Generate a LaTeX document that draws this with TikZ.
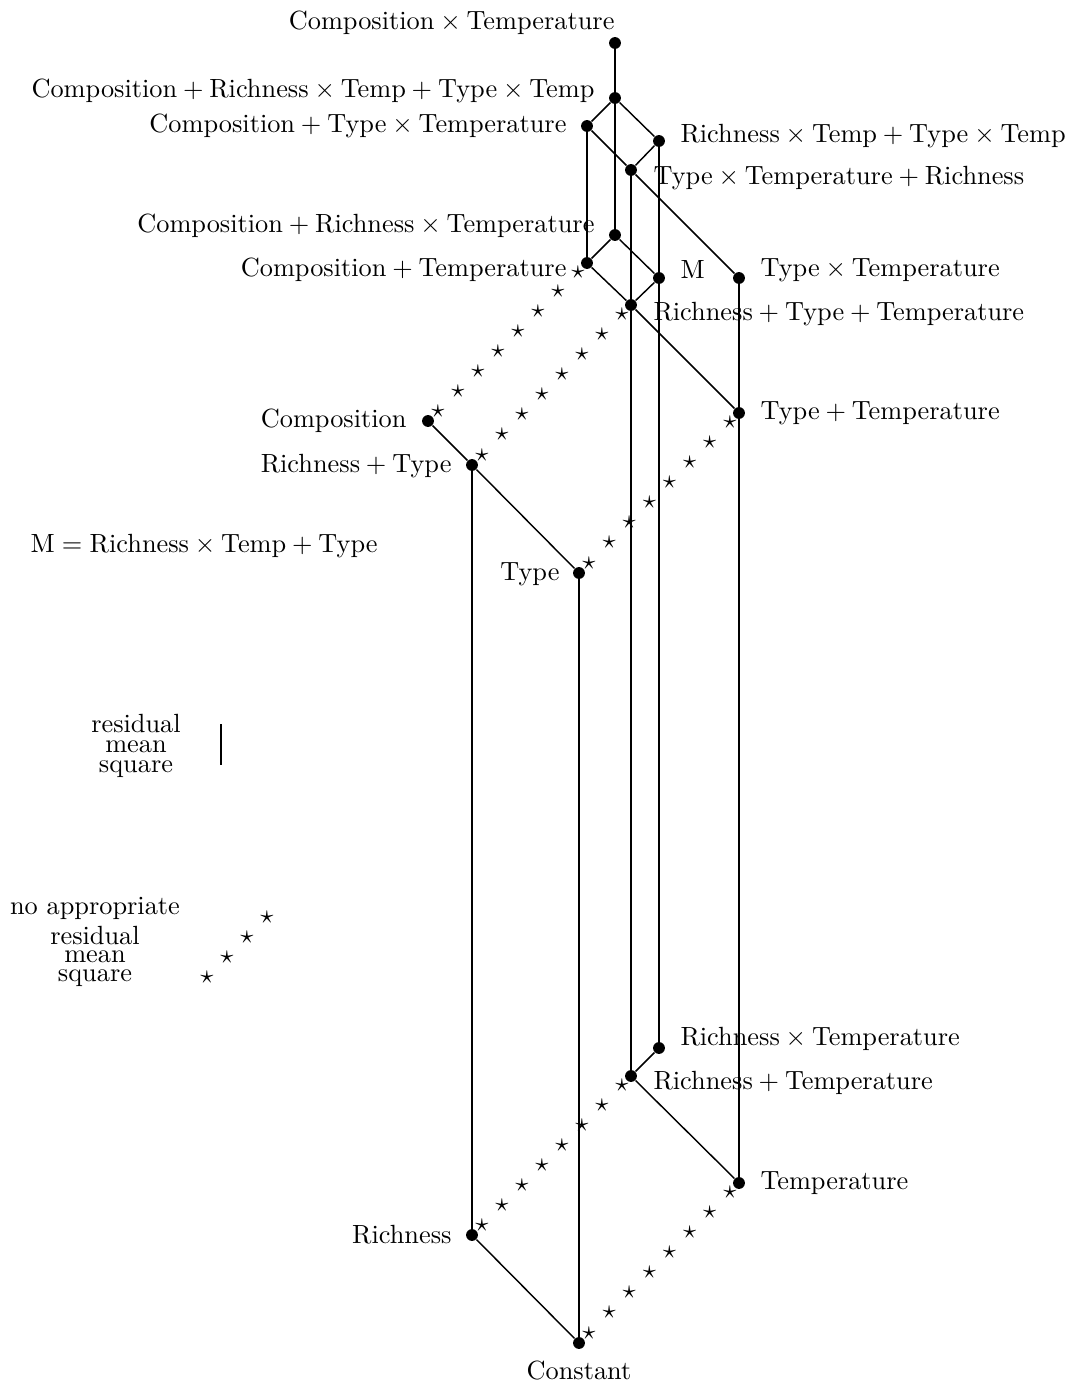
\documentclass[tikz,border=0pt]{standalone}
\usetikzlibrary{calc}
\newcommand\pl{${}+{}$}
\newcommand\tm{${}\times{}$}
\begin{document}
\begin{tikzpicture}[x=0.38pt,y=-0.38pt,
  dot/.style={circle,fill=black,inner sep=0pt,minimum size=4.5pt},
  lab/.style={inner sep=0pt},
  keytext/.style={inner sep=0pt,align=center,anchor=north},
  link/.style={line width=0.55pt},
  st/.style={inner sep=0pt}]
\useasboundingbox (0,0) rectangle (1071,1387);

% model nodes
\node[dot] (CT)    at (615,43)   {};
\node[dot] (CRTT)  at (615,98)   {};
\node[dot] (CTT)   at (587,126)  {};
\node[dot] (RTTT)  at (659,141)  {};
\node[dot] (TTR)   at (631,170)  {};
\node[dot] (CRT)   at (615,235)  {};
\node[dot] (CTemp) at (587,263)  {};
\node[dot] (M)     at (659,278)  {};
\node[dot] (TT)    at (739,278)  {};
\node[dot] (RTT)   at (631,305)  {};
\node[dot] (TpT)   at (739,413)  {};
\node[dot] (Comp)  at (428,421)  {};
\node[dot] (RT)    at (472,465)  {};
\node[dot] (Type)  at (579,573)  {};
\node[dot] (RxT)   at (659,1048) {};
\node[dot] (RpT)   at (631,1076) {};
\node[dot] (Temp)  at (739,1183) {};
\node[dot] (Rich)  at (472,1235) {};
\node[dot] (Const) at (579,1343) {};

% labels
\node[lab,anchor=base east] (lCT)    at (615,29)   {Composition\tm Temperature};
\node[lab,anchor=base east] (lCRTT)  at (595,97)   {Composition\pl Richness\tm Temp\pl Type\tm Temp};
\node[lab,anchor=base east] (lCTT)   at (567,132)  {Composition\pl Type\tm Temperature};
\node[lab,anchor=base west] (lRTTT)  at (680,142)  {Richness\tm Temp\pl Type\tm Temp};
\node[lab,anchor=base west] (lTTR)   at (653,184)  {Type\tm Temperature\pl Richness};
\node[lab,anchor=base east] (lCRT)   at (595,232)  {Composition\pl Richness\tm Temperature};
\node[lab,anchor=base east] (lCTemp) at (567,276)  {Composition\pl Temperature};
\node[lab,anchor=base west] (lM)     at (680,278)  {M};
\node[lab,anchor=base west] (lTT)    at (760,276)  {Type\tm Temperature};
\node[lab,anchor=base west] (lRTT)   at (653,320)  {Richness\pl Type\pl Temperature};
\node[lab,anchor=base west] (lTpT)   at (760,419)  {Type\pl Temperature};
\node[lab,anchor=base east] (lComp)  at (407,427)  {Composition};
\node[lab,anchor=base east] (lRT)    at (452,472)  {Richness\pl Type};
\node[lab,anchor=base east] (lType)  at (560,580)  {Type};
\node[lab,anchor=base west] (lRxT)   at (680,1045) {Richness\tm Temperature};
\node[lab,anchor=base west] (lRpT)   at (653,1089) {Richness\pl Temperature};
\node[lab,anchor=base west] (lTemp)  at (760,1189) {Temperature};
\node[lab,anchor=base east] (lRich)  at (452,1243) {Richness};
\node[lab,anchor=base]      (lConst) at (579,1379) {Constant};
\node[lab,anchor=base west] (lMdef)  at (30,552)   {M${}={}$Richness\tm Temp\pl Type};

% edges with a residual mean square
\foreach \a/\b in {CT/CRTT, CRTT/CTT, CRTT/RTTT, CRTT/CRT, CTT/CTemp, CTT/TTR,
                   TTR/TT, RTTT/TTR, RTTT/M, TTR/RTT, CRT/CTemp, CRT/M,
                   CTemp/RTT, M/RTT, RTT/TpT, TT/TpT, Comp/RT, RT/Type,
                   RT/Rich, Type/Const, M/RxT, RTT/RpT, RxT/RpT, RpT/Temp,
                   TpT/Temp, Rich/Const}
  \draw[link] (\a) -- (\b);

% edges without an appropriate residual mean square
\foreach \a/\b/\n in {Comp/CTemp/a, RT/RTT/b, Type/TpT/c, Rich/RpT/d, Const/Temp/e}
  \foreach \k in {0,...,7}
    \node[st] (s\n\k) at ($(\a)!{(10+20*\k)/159}!(\b)$) {$\star$};

% key
\node[keytext] (k1) at (136,714) {residual\\[-4.4pt]mean\\[-4.6pt]square};
\coordinate (kt) at (221,724);
\coordinate (kb) at (221,765);
\draw[link] (kt) -- (kb);

\node[keytext] (k2) at (95,897) {no appropriate\\[-0.6pt]residual\\[-5.1pt]mean\\[-4.8pt]square};
\foreach \k/\x/\y in {0/207/977, 1/227/957, 2/247/937, 3/267/917}
  \node[st] (ks\k) at (\x,\y) {$\star$};
\end{tikzpicture}
\end{document}
